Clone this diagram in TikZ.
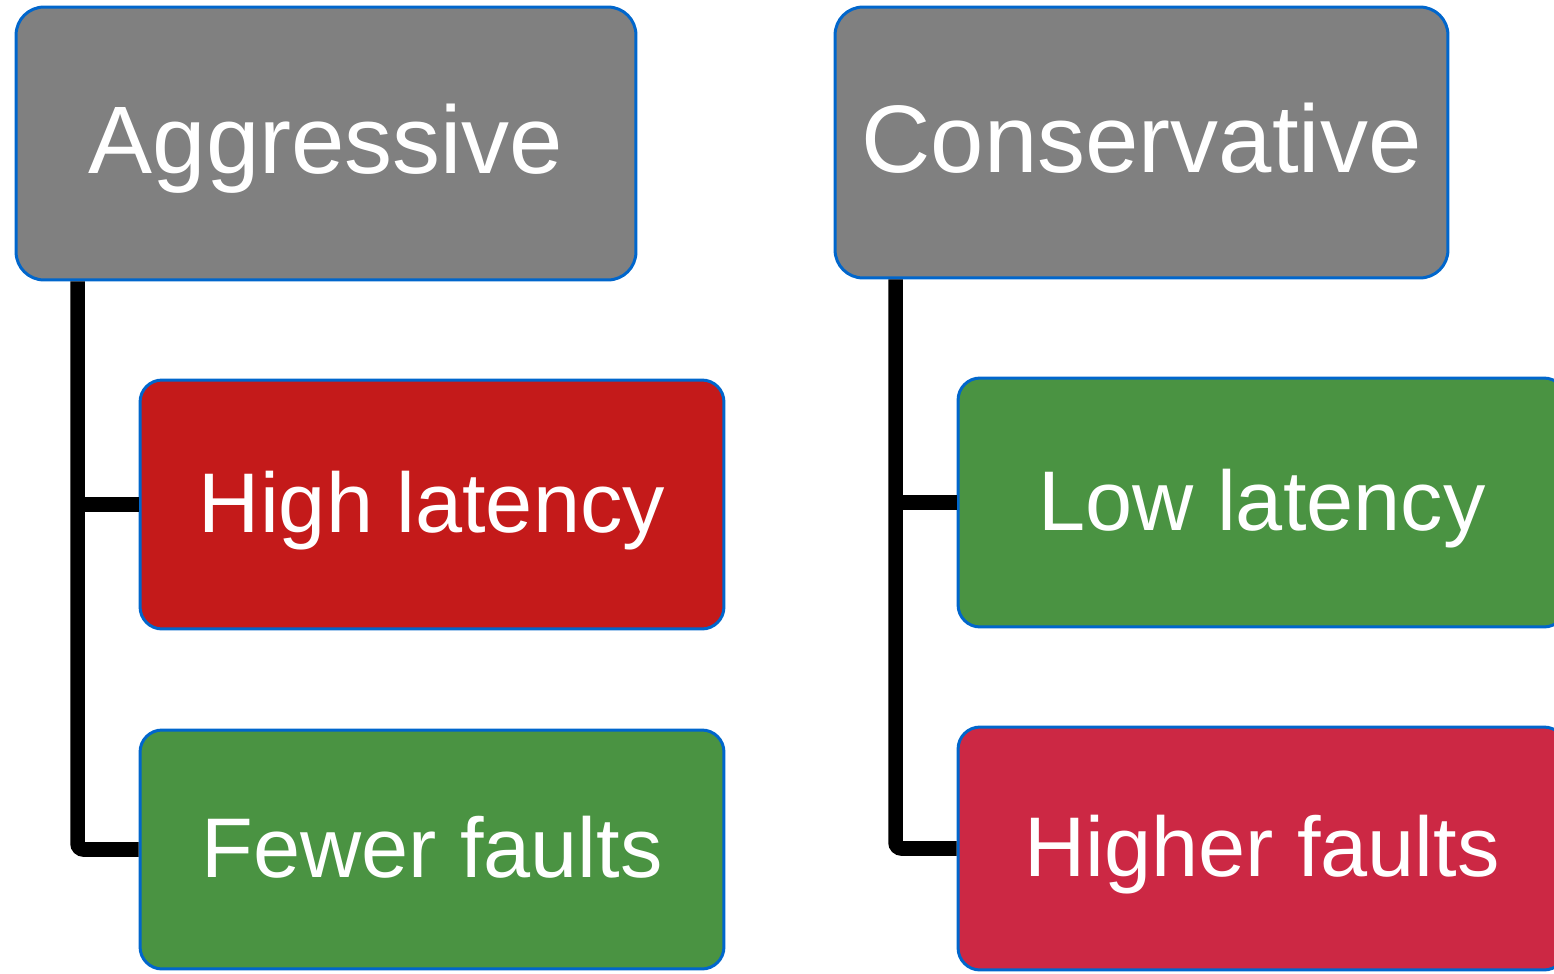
\documentclass[tikz,border=0pt]{standalone}
\usepackage{fontspec}
\setmainfont{Liberation Sans}
\definecolor{boxgray}{RGB}{128,128,128}
\definecolor{boxred}{RGB}{196,26,26}
\definecolor{boxgreen}{RGB}{74,147,66}
\definecolor{boxcrimson}{RGB}{204,40,68}
\definecolor{edgeblue}{RGB}{0,102,204}
\tikzset{
  card/.style={draw=edgeblue, line width=1.7pt, rectangle, inner sep=0pt,
    text=white, align=center},
  headbox/.style={card, fill=boxgray, rounded corners=0.56cm,
    font=\fontsize{54.6}{60}\selectfont, text height=39.4pt, text depth=5.6pt},
  itembox/.style={card, rounded corners=0.44cm,
    font=\fontsize{48.2}{54}\selectfont, text height=36pt, text depth=4.6pt},
  conn/.style={draw=black, line width=8.3pt, rounded corners=0.12cm}
}
\begin{document}
\begin{tikzpicture}[x=0.02cm, y=-0.02cm]
  \useasboundingbox (0,0) rectangle (1554,973);
  \clip (0,0) rectangle (1554,973);

  % left branch
  \node[headbox, minimum width=12.4cm, minimum height=5.46cm] (agg) at (326,143.5) {Aggressive};
  \node[itembox, fill=boxred, minimum width=11.68cm, minimum height=4.98cm] (hl) at (432,504.5) {High latency};
  \node[itembox, fill=boxgreen, minimum width=11.68cm, minimum height=4.78cm] (ff) at (432,849.5) {Fewer faults};
  \coordinate (ta) at ([xshift=1.26cm]agg.south west);

  % right branch
  \node[headbox, minimum width=12.26cm, minimum height=5.42cm] (con) at (1141.5,142.5) {Conservative};
  \node[itembox, fill=boxgreen, minimum width=12.16cm, minimum height=4.98cm] (ll) at (1262,502.5) {Low latency};
  \node[itembox, fill=boxcrimson, minimum width=12.16cm, minimum height=4.86cm] (hf) at (1262,848.5) {Higher faults};
  \coordinate (tc) at ([xshift=1.24cm]con.south west);

  % tree connectors
  \draw[conn] (ta) |- (ff.west);
  \draw[conn] (hl.west) -- (hl.west -| ta);
  \draw[conn] (tc) |- (hf.west);
  \draw[conn] (ll.west) -- (ll.west -| tc);
\end{tikzpicture}
\end{document}
